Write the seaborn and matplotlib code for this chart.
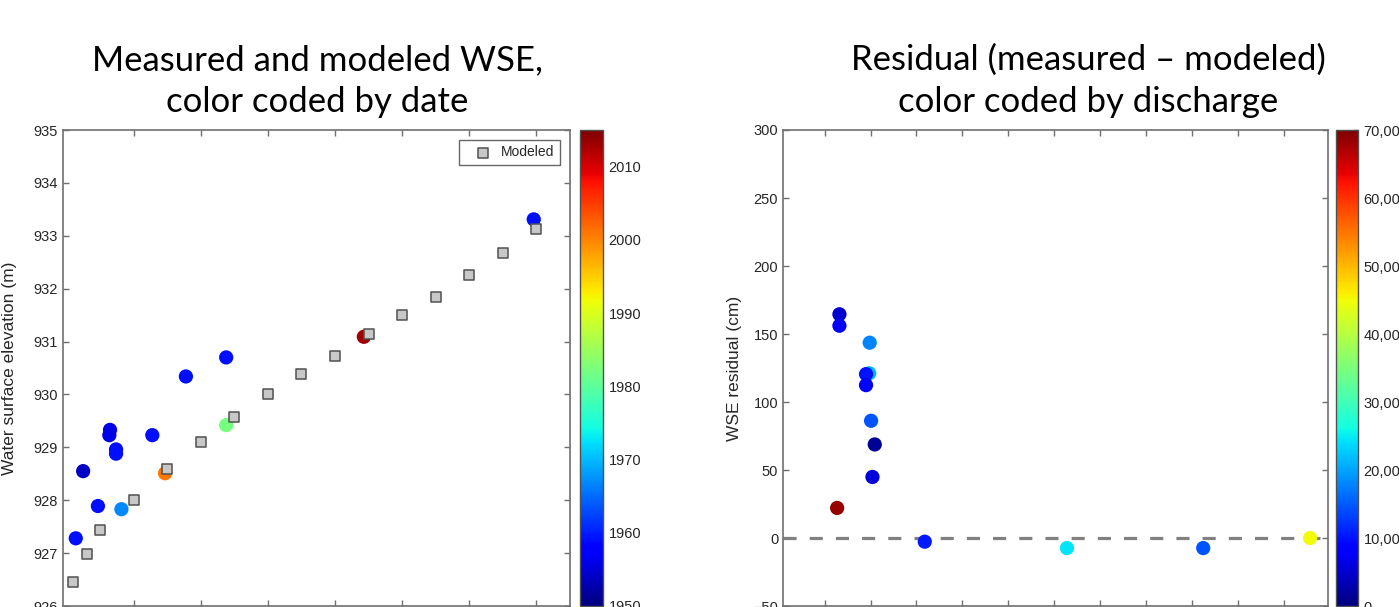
import numpy as np
import pandas as pd
import matplotlib
matplotlib.use("Agg")
import matplotlib.pyplot as plt
import seaborn as sns
from matplotlib.colors import Normalize
from matplotlib.cm import ScalarMappable
from matplotlib.ticker import FuncFormatter, NullFormatter

# ---- data ----
# left panel: modeled WSE (grey squares)
mod_x = [0.1, 0.3, 0.5, 1.0, 1.5, 2.0, 2.5, 3.0, 3.5, 4.0, 4.5, 5.0, 5.5, 6.0, 6.5, 7.0]
mod_wse = [926.46, 926.98, 927.44, 928.01, 928.59, 929.10, 929.58, 930.00,
           930.39, 930.73, 931.14, 931.50, 931.84, 932.25, 932.67, 933.13]

# left panel: measured WSE, colour = year
meas_x = [0.14, 0.25, 0.47, 0.65, 0.64, 0.74, 0.74, 0.82, 1.28, 1.47, 1.78, 2.38, 2.38, 4.43, 6.96]
meas_wse = [927.28, 928.55, 927.89, 929.33, 929.23, 928.96, 928.88, 927.83,
            929.23, 928.51, 930.34, 929.42, 930.70, 931.09, 933.31]
meas_year = [1959, 1954, 1959, 1956, 1956, 1959, 1959, 1967,
             1959, 2001, 1959, 1982, 1959, 2013, 1959]

# right panel: residuals, colour = discharge
res_x = [1.32, 1.32, 1.98, 1.97, 1.90, 1.90, 2.01, 2.09, 2.04, 1.27, 3.18, 6.28, 9.25, 11.58]
res_cm = [164.5, 156.1, 143.6, 121.1, 120.5, 112.4, 86.2, 68.8, 44.9, 22.1, -2.7, -7.4, -7.4, 0.0]
res_q = [5000, 7500, 18000, 21500, 10000, 8000, 14500, 1500, 5500, 68500, 10500, 24500, 14500, 45000]

year_lim = (1950, 2015)
year_ticks = [1950, 1960, 1970, 1980, 1990, 2000, 2010]
q_lim = (0, 70000)
q_ticks = [0, 10000, 20000, 30000, 40000, 50000, 60000, 70000]

left_df = pd.DataFrame({"x": meas_x, "wse": meas_wse, "year": meas_year})
mod_df = pd.DataFrame({"x": mod_x, "wse": mod_wse})
res_df = pd.DataFrame({"x": res_x, "res": res_cm, "q": res_q})

# ---- style ----
sns.set_style("ticks", {"xtick.direction": "in", "ytick.direction": "in"})
plt.rcParams["font.family"] = ["Liberation Sans", "DejaVu Sans"]
spine_c = "#707070"
text_c = "#262626"

W, H = 1399, 607
fig = plt.figure(figsize=(W / 100, H / 100), dpi=100)
fig.set_facecolor("white")

def box(x0, y0, x1, y1):
    # pixel box (top-left origin) -> figure fraction rect
    return [x0 / W, 1 - y1 / H, (x1 - x0) / W, (y1 - y0) / H]

ax1 = fig.add_axes(box(63, 130, 570, 606))
cax1 = fig.add_axes(box(580, 130, 603, 606))
ax2 = fig.add_axes(box(783, 130, 1328, 606))
cax2 = fig.add_axes(box(1336, 130, 1358, 606))

cmap = matplotlib.colormaps["jet"]
ynorm = Normalize(*year_lim)
qnorm = Normalize(*q_lim)

# left panel
sns.scatterplot(data=left_df, x="x", y="wse", hue="year", palette=cmap, hue_norm=ynorm,
                s=105, linewidth=0, legend=False, ax=ax1, zorder=3)
ax1.scatter(mod_df["x"], mod_df["wse"], marker="s", s=55, facecolor="#c8c8c8",
            edgecolor="#505050", linewidth=1.1, zorder=4, label="Modeled")
ax1.set_xlim(-0.05, 7.5)
ax1.set_ylim(926, 935)
ax1.set_xticks(range(1, 8))
ax1.set_yticks(range(926, 936))
ax1.set_xlabel("")
ax1.set_ylabel("Water surface elevation (m)", fontsize=12.5, color=text_c, labelpad=12)
leg = ax1.legend(loc="upper right", frameon=True, fancybox=False, fontsize=10,
                 handletextpad=0.05, borderpad=0.4, handlelength=2.6,
                 borderaxespad=0.7)
leg.get_frame().set_edgecolor("#404040")
leg.get_frame().set_linewidth(1.0)

# right panel
sns.scatterplot(data=res_df, x="x", y="res", hue="q", palette=cmap, hue_norm=qnorm,
                s=105, linewidth=0, legend=False, ax=ax2, zorder=3)
ax2.axhline(0, color="#808080", lw=2.3, linestyle=(0, (4.1, 4.1)), zorder=2)
ax2.set_xlim(0.09, 11.97)
ax2.set_ylim(-50, 300)
ax2.set_xticks(range(1, 12))
ax2.set_yticks(range(-50, 301, 50))
ax2.set_xlabel("")
ax2.set_ylabel("WSE residual (cm)", fontsize=12.5, color=text_c, labelpad=8)

for ax in (ax1, ax2):
    for sp in ax.spines.values():
        sp.set_visible(True)
        sp.set_color(spine_c)
        sp.set_linewidth(1.2)
    ax.tick_params(direction="in", top=True, right=True, length=4, width=1,
                   color=spine_c, labelsize=10.5, labelcolor=text_c)
    # x tick labels sit below the cropped bottom edge, so none are shown
    ax.xaxis.set_major_formatter(NullFormatter())

# colorbars
cb1 = fig.colorbar(ScalarMappable(norm=ynorm, cmap=cmap), cax=cax1, ticks=year_ticks)
cb2 = fig.colorbar(ScalarMappable(norm=qnorm, cmap=cmap), cax=cax2, ticks=q_ticks,
                   format=FuncFormatter(lambda v, p: f"{int(v):,}"))
for cb in (cb1, cb2):
    cb.outline.set_edgecolor("#505050")
    cb.outline.set_linewidth(1.0)
    cb.ax.tick_params(direction="in", length=3, width=1, color="#404040",
                      labelsize=10.5, labelcolor=text_c, pad=4)

# titles
tf = dict(family=["Lato", "DejaVu Sans"], fontsize=25, color="black", ha="center", va="baseline")
fig.text(317 / W, 1 - 70 / H, "Measured and modeled WSE,", **tf)
fig.text(317 / W, 1 - 112 / H, "color coded by date", **tf)
fig.text(1088 / W, 1 - 70 / H, "Residual (measured \u2013 modeled)", **tf)
fig.text(1088 / W, 1 - 112 / H, "color coded by discharge", **tf)

fig.savefig("out.png", dpi=100, facecolor="white")
